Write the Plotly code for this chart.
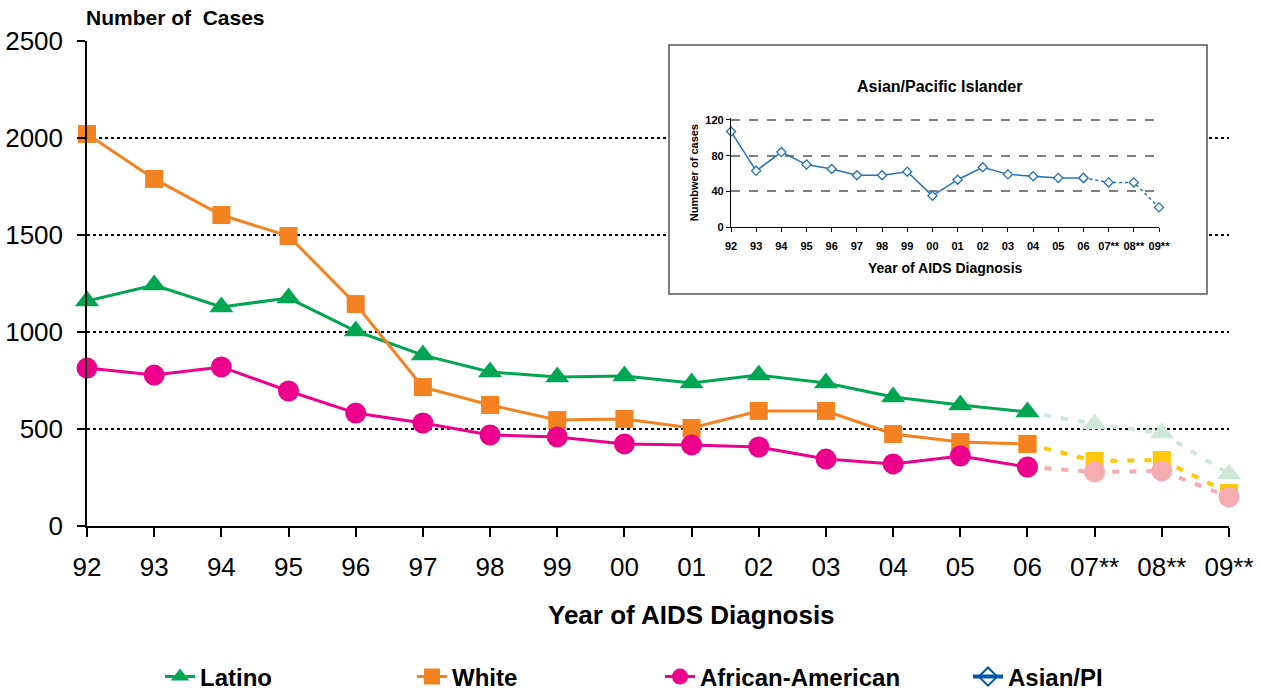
import plotly.graph_objects as go

years = ["92", "93", "94", "95", "96", "97", "98", "99", "00", "01", "02", "03",
         "04", "05", "06", "07**", "08**", "09**"]
latino = [1160, 1242, 1129, 1175, 1005, 881, 794, 768, 773, 737, 778, 737, 665, 624, 588, 526, 479, 268]
white = [2021, 1789, 1603, 1495, 1144, 716, 624, 546, 552, 505, 593, 593, 474, 433, 423, 335, 340, 170]
african_american = [814, 778, 820, 696, 582, 531, 469, 459, 423, 418, 407, 345, 320, 361, 304, 278, 284, 150]
asian_pi = [107, 63, 84, 70, 65, 58, 58, 62, 35, 53, 67, 59, 57, 55, 55, 50, 50, 22]
LAST_ACTUAL = 14  # index of "06"

FONT = "Liberation Sans, Arial, sans-serif"
xs = list(range(len(years)))

series = [
    ("Latino", latino, "#00A651", "#CDE8D6", "triangle-up", 21, "legend"),
    ("White", white, "#F58220", "#FFC808", "square", 18, "legend2"),
    ("African-American", african_american, "#EC008C", "#F7ACB1", "circle", 21, "legend3"),
]

fig = go.Figure()

# projected (dashed, light) segments
for name, vals, col, light, sym, size, lg in series:
    fig.add_trace(go.Scatter(
        x=xs[LAST_ACTUAL:], y=vals[LAST_ACTUAL:], mode="lines+markers",
        line=dict(color=light, width=4, dash="7px,10px"),
        marker=dict(symbol=sym, size=size, color=light),
        showlegend=False, cliponaxis=False, hoverinfo="skip"))

# actual data
for name, vals, col, light, sym, size, lg in series:
    fig.add_trace(go.Scatter(
        x=xs[:LAST_ACTUAL + 1], y=vals[:LAST_ACTUAL + 1], mode="lines+markers", name=name,
        line=dict(color=col, width=3),
        marker=dict(symbol=sym, size=size, color=col),
        legend=lg, cliponaxis=False))

# legend entry for Asian/PI (data shown in the inset)
fig.add_trace(go.Scatter(
    x=[None], y=[None], mode="lines+markers", name="Asian/PI",
    line=dict(color="#0057A8", width=4),
    marker=dict(symbol="diamond-open", size=14, color="#0057A8", line=dict(width=2)),
    legend="legend4"))

# inset: Asian/Pacific Islander
ICOL = "#2372BA"
fig.add_trace(go.Scatter(
    x=xs[:LAST_ACTUAL + 1], y=asian_pi[:LAST_ACTUAL + 1], mode="lines+markers",
    xaxis="x2", yaxis="y2", line=dict(color=ICOL, width=1.5),
    marker=dict(symbol="diamond", size=7, color="white", line=dict(color=ICOL, width=1.3)),
    showlegend=False, cliponaxis=False))
fig.add_trace(go.Scatter(
    x=xs[LAST_ACTUAL:], y=asian_pi[LAST_ACTUAL:], mode="lines+markers",
    xaxis="x2", yaxis="y2", line=dict(color=ICOL, width=1.5, dash="dot"),
    marker=dict(symbol="diamond", size=7, color="white", line=dict(color=ICOL, width=1.3)),
    showlegend=False, cliponaxis=False))

W, H = 1261, 694
L, R, T, B = 87, 32, 41, 168
PW, PH = W - L - R, H - T - B
XMAX, YMAX = 17, 2500


def px(x):
    return (x - L) / PW


def py(y):
    return (H - B - y) / PH


legend_common = dict(orientation="h", font=dict(family=FONT, size=24, color="black", weight="bold"),
                     bgcolor="rgba(0,0,0,0)", yanchor="middle", xanchor="left", y=py(677))

fig.update_layout(
    width=W, height=H,
    margin=dict(l=L, r=R, t=T, b=B, autoexpand=False),
    plot_bgcolor="white", paper_bgcolor="white",
    font=dict(family=FONT, color="black"),
    legend=dict(legend_common, x=px(160)),
    legend2=dict(legend_common, x=px(412)),
    legend3=dict(legend_common, x=px(660)),
    legend4=dict(legend_common, x=px(968)),
    xaxis=dict(range=[0, XMAX], tickvals=xs, ticktext=years, showgrid=False, zeroline=False,
               showline=True, linecolor="black", linewidth=1.5, ticks="outside", ticklen=9,
               tickcolor="black", tickwidth=1.5, tickfont=dict(size=26, family=FONT),
               ticklabelstandoff=8),
    yaxis=dict(range=[0, YMAX], dtick=500, showgrid=True, gridcolor="black", gridwidth=2,
               griddash="dot", zeroline=False, showline=True, linecolor="black", linewidth=1.5,
               ticks="outside", ticklen=8, tickcolor="black", tickwidth=1.5,
               tickfont=dict(size=26, family=FONT), ticklabelstandoff=9),
    xaxis2=dict(domain=[px(731), px(1159)], anchor="y2", range=[0, 17], tickvals=xs, ticktext=years,
                showgrid=False, zeroline=False, showline=True, linecolor="black", linewidth=1.2,
                ticks="outside", ticklen=4, tickcolor="black", ticklabelstandoff=5,
                tickfont=dict(size=11, family=FONT, weight="bold")),
    yaxis2=dict(domain=[py(227), py(118.2)], anchor="x2", range=[0, 122], dtick=40,
                showgrid=True, gridcolor="#7F7F7F", gridwidth=1.5, griddash="dash", zeroline=False,
                showline=True, linecolor="black", linewidth=1.2, ticks="outside", ticklen=4,
                tickcolor="black", tickfont=dict(size=11, family=FONT, weight="bold"),
                title=dict(text="Numbwer of cases", font=dict(size=11, family=FONT, weight="bold"),
                           standoff=4)),
    shapes=[
        dict(type="rect", xref="x", yref="y", x0=px(669) * XMAX, x1=px(1207) * XMAX,
             y0=py(294) * YMAX, y1=py(45) * YMAX, fillcolor="white", line=dict(width=0),
             layer="between"),
        dict(type="rect", xref="paper", yref="paper", x0=px(669), x1=px(1207),
             y0=py(294), y1=py(45), fillcolor="rgba(0,0,0,0)",
             line=dict(color="#555555", width=1.5), layer="above"),
    ],
    annotations=[
        dict(text="Number of  Cases", xref="paper", yref="paper", x=px(84), y=py(18),
             xanchor="left", yanchor="middle", showarrow=False,
             font=dict(size=21, family=FONT, weight="bold")),
        dict(text="Year of AIDS Diagnosis", xref="paper", yref="paper", x=px(691), y=py(615),
             xanchor="center", yanchor="middle", showarrow=False,
             font=dict(size=26, family=FONT, weight="bold")),
        dict(text="Asian/Pacific Islander", xref="paper", yref="paper", x=px(939), y=py(86),
             xanchor="center", yanchor="middle", showarrow=False,
             font=dict(size=16, family=FONT, weight="bold")),
        dict(text="Year of AIDS Diagnosis", xref="paper", yref="paper", x=px(945), y=py(268),
             xanchor="center", yanchor="middle", showarrow=False,
             font=dict(size=14, family=FONT, weight="bold")),
    ],
)

fig.write_html("out.html", config={"displayModeBar": False},
               post_script="document.body.style.margin='0';")
